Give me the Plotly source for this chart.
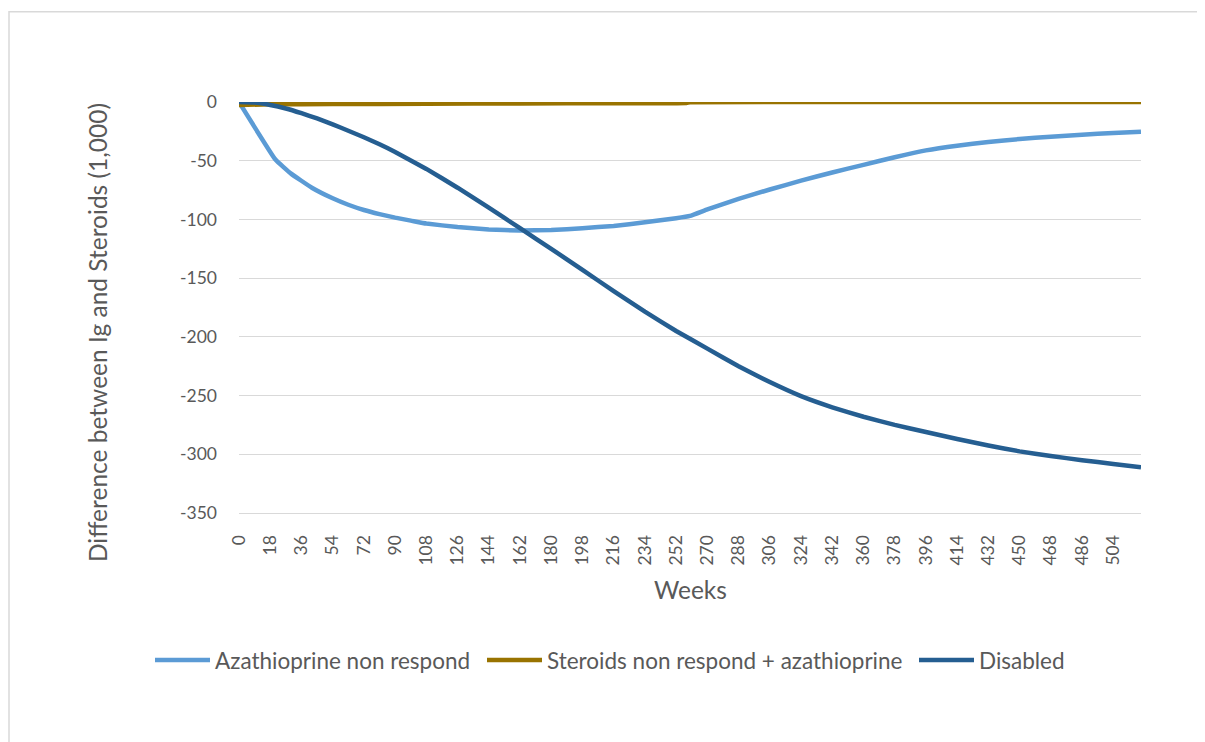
import plotly.graph_objects as go

# ---- data ----
aza_weeks = [0, 21, 30, 42, 54, 63, 72, 81, 90, 99, 108, 126, 144, 162, 180, 198, 216, 234, 252, 260,
             270, 288, 306, 324, 342, 360, 378, 396, 414, 432, 450, 468, 486, 504, 520]
aza_values = [0, -49, -61, -73, -82, -87.5, -92, -95.5, -98.5, -101, -103.5, -106.5, -108.5, -109.5, -109,
              -107.5, -105.5, -102.5, -99, -97, -91.5, -82.5, -74.5, -67, -60, -53.5, -47, -41.2, -37.2,
              -34, -31.5, -29.5, -27.8, -26.4, -25.3]

ster_weeks = [0, 18, 54, 108, 162, 216, 258, 260, 390, 520]
ster_values = [-2.5, -2, -1.8, -1.5, -1.2, -1.0, -0.8, -0.2, -0.1, -0.1]

dis_weeks = [0, 9, 18, 27, 36, 45, 54, 63, 72, 81, 90, 108, 126, 144, 162, 180, 198, 216, 234, 252,
             270, 288, 306, 324, 342, 360, 378, 396, 414, 432, 450, 468, 486, 504, 520]
dis_values = [0, -0.5, -2.5, -5.5, -9.5, -14, -19, -24.5, -30, -36, -42.5, -57, -73, -90, -107.5, -125,
              -143, -161, -178.5, -195, -210, -225, -238.5, -250.5, -260, -268, -275, -281, -287,
              -292.5, -297.5, -301.5, -305, -308.3, -311]

series_names = ["Azathioprine non respond", "Steroids non respond + azathioprine", "Disabled"]
series_colors = ["#5B9BD5", "#997300", "#255E91"]

x_ticks = list(range(0, 505, 18))
y_ticks = [0, -50, -100, -150, -200, -250, -300, -350]

FONT = "Lato"
GREY = "#595959"

# page has an 8px body margin; figure is sized so it fits the window
OFF = 8
W, H = 1205 - OFF, 742 - OFF
PL, PR, PT, PB = 239, 1141, 101.5, 513.3   # plot area in page pixels
L, R, T, B = PL - OFF, W - (PR - OFF), PT - OFF, H - (PB - OFF)
pw, ph = W - L - R, H - T - B

def px(xp):  # page pixel -> paper x
    return (xp - OFF - L) / pw

def py(yp):  # page pixel -> paper y
    return (H - B - (yp - OFF)) / ph

legend_keys = ["legend", "legend2", "legend3"]
legend_x = [150, 482, 914]

fig = go.Figure()
for name, xs, ys, col, lk in zip(series_names, [aza_weeks, ster_weeks, dis_weeks],
                                 [aza_values, ster_values, dis_values], series_colors, legend_keys):
    fig.add_trace(go.Scatter(x=xs, y=ys, mode="lines", name=name, legend=lk,
                             line=dict(color=col, width=4.5, shape="spline", smoothing=0.3)))

legend_common = dict(orientation="h", xanchor="left", yanchor="middle", y=py(661),
                     font=dict(family=FONT, size=22.5, color=GREY), itemwidth=55,
                     bgcolor="rgba(0,0,0,0)")

fig.update_layout(
    width=W, height=H,
    margin=dict(l=L, r=R, t=T, b=B, pad=0),
    paper_bgcolor="white", plot_bgcolor="white",
    font=dict(family=FONT, color=GREY, size=18),
    showlegend=True,
    legend=dict(x=px(legend_x[0]), **legend_common),
    legend2=dict(x=px(legend_x[1]), **legend_common),
    legend3=dict(x=px(legend_x[2]), **legend_common),
    xaxis=dict(range=[0, 520], tickmode="array", tickvals=x_ticks, ticktext=[str(v) for v in x_ticks],
               tickangle=-90, showgrid=False, zeroline=False, showline=True,
               linecolor="#d9d9d9", linewidth=1.3, ticks="", ticklabelstandoff=14,
               tickfont=dict(family=FONT, size=17.5, color=GREY)),
    yaxis=dict(range=[-350, 0], tickmode="array", tickvals=y_ticks, ticktext=[str(v) for v in y_ticks],
               showgrid=True, gridcolor="#d9d9d9", gridwidth=1.3, zeroline=False, showline=False,
               ticks="", ticklabelstandoff=21,
               tickfont=dict(family=FONT, size=17.5, color=GREY)),
    annotations=[
        dict(text="Weeks", xref="paper", yref="paper", x=0.5, y=py(590), showarrow=False,
             xanchor="center", yanchor="middle", font=dict(family=FONT, size=24.5, color=GREY)),
        dict(text="Difference between Ig and Steroids (1,000)", xref="paper", yref="paper",
             x=px(97), y=py(333), textangle=-90, showarrow=False, xanchor="center", yanchor="middle",
             font=dict(family=FONT, size=24.5, color=GREY)),
    ],
    shapes=[
        dict(type="rect", xref="paper", yref="paper", x0=px(9), x1=px(1230), y0=py(780), y1=py(11),
             line=dict(color="#d9d9d9", width=1.5), fillcolor="rgba(0,0,0,0)", layer="below"),
    ],
)

fig.write_html("out.html")
